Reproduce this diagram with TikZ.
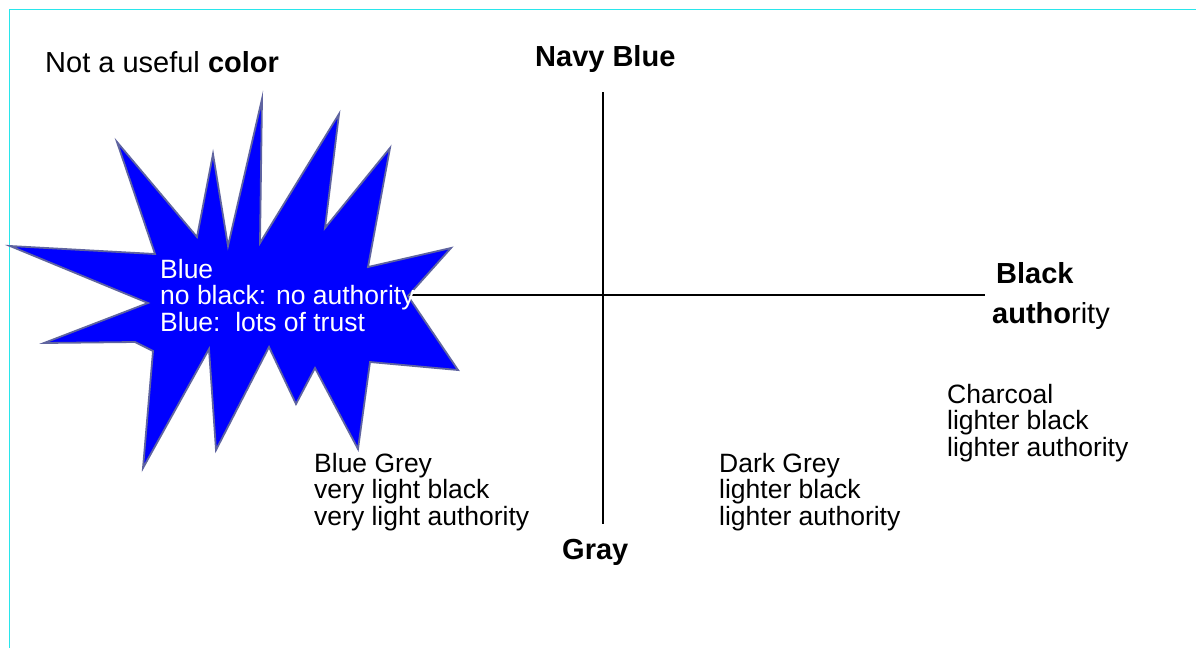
\documentclass[tikz,border=0pt]{standalone}
\usepackage{fontspec}
\setmainfont{Liberation Sans}
\definecolor{framecyan}{RGB}{40,230,235}
\definecolor{starblue}{RGB}{0,0,255}
\definecolor{staredge}{RGB}{95,100,160}
\begin{document}
\begin{tikzpicture}[x=1pt,y=-1pt,
  % multi-line nodes are placed by the baseline of their last line
  body/.style={anchor=base west,inner sep=0pt,align=left,
    font=\fontsize{26.5}{26.5}\selectfont},
  head/.style={anchor=base west,inner sep=0pt,align=left,
    font=\fontsize{29}{29}\selectfont},
  axis/.style={draw=black,line width=1.1pt}]
\useasboundingbox (0,0) rectangle (1196,648);
\fill[white] (0,0) rectangle (1196,648);
% frame edges
\draw[framecyan,line width=1.6pt] (9.5,648) -- (9.5,9.5) -- (1196,9.5);

% axes
\coordinate (ytop) at (603,92);
\coordinate (ybot) at (603,524);
\coordinate (xleft) at (400,295);
\coordinate (xright) at (985,295);
\draw[axis] (ytop) -- (ybot);
\draw[axis] (xleft) -- (xright);

% explosion burst
\draw[staredge,fill=starblue,line width=1.8pt,line join=miter]
  (10,246) -- (155,254) -- (117,142) -- (197,237) -- (213,154) -- (228,246)
  -- (262,99) -- (260,243) -- (339,114) -- (325,228) -- (390,148)
  -- (368,267) -- (451,248) -- (408,296) -- (458,370) -- (370,362)
  -- (358,449) -- (315,368) -- (296,404) -- (269,347) -- (216,450)
  -- (209,349) -- (143,468) -- (153,351) -- (135,342) -- (44,343)
  -- (148,303) -- cycle;

% labels
\node[head] (title) at (45,72) {Not a useful \textbf{color}};
\node[head] (navy) at (535,66) {\textbf{Navy Blue}};
\node[head] (gray) at (562,559) {\textbf{Gray}};
\node[head] (black) at (996,283) {\textbf{Black}};
\node[head] (auth) at (992,323) {\textbf{autho}rity};
\node[body,text=white] (blue) at (160,331)
  {Blue\\no black: no authority\\Blue:\ \ lots of trust};
\node[body] (bluegrey) at (314,525)
  {Blue Grey\\very light black\\very light authority};
\node[body] (darkgrey) at (719,525)
  {Dark Grey\\lighter black\\lighter authority};
\node[body] (charcoal) at (947,456)
  {Charcoal\\lighter black\\lighter authority};
\end{tikzpicture}
\end{document}
